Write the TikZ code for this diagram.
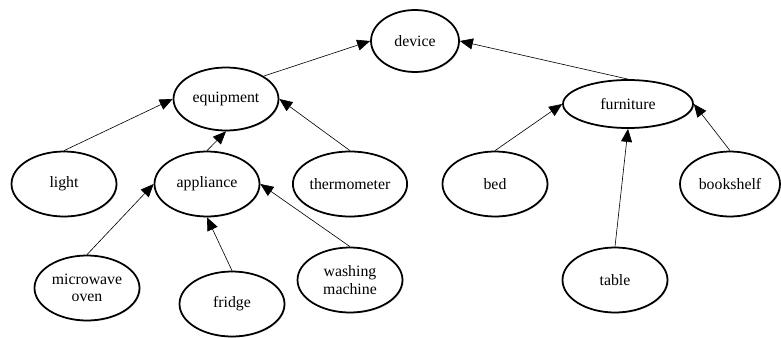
\documentclass[tikz,border=0pt]{standalone}
\usepackage{fontspec}
\setmainfont{Liberation Serif}
\usepackage{tikz}
\usetikzlibrary{arrows.meta,shapes.geometric,shadows}

\begin{document}
\begin{tikzpicture}[
  x=0.02cm, y=-0.02cm,
  every node/.style={font=\fontsize{9}{10}\selectfont},
  concept/.style={ellipse, draw, line width=1pt, fill=white, inner sep=0pt,
    minimum width=2.1cm, minimum height=1.3cm, align=center,
    drop shadow={shadow xshift=0.6pt, shadow yshift=-0.6pt, fill=gray!60}},
  arrow/.style={-{Triangle[length=2.6mm,width=2.2mm]}, line width=0.35pt}
]
\useasboundingbox (0,0) rectangle (781,338);

\node[concept, minimum width=1.76cm, minimum height=1.24cm] (device) at (415,41) {device};
\node[concept, minimum height=1.26cm] (equipment) at (226,99) {equipment};
\node[concept, minimum width=2.6cm, minimum height=0.96cm] (furniture) at (628,104) {furniture};

\node[concept] (light) at (64,184) {light};
\node[concept] (appliance) at (207,184) {appliance};
\node[concept] (thermometer) at (350,184) {thermometer};
\node[concept] (bed) at (495,184) {bed};
\node[concept, minimum width=2.0cm] (bookshelf) at (730,184) {bookshelf};

\node[concept] (microwave) at (87,288) {microwave\\oven};
\node[concept] (fridge) at (232,304) {fridge};
\node[concept] (washing) at (350,280) {washing\\machine};
\node[concept] (table) at (615,280) {table};

\draw[arrow] (equipment.north east) -- (device.west);
\draw[arrow] (furniture.north) -- (device.east);
\draw[arrow] (light.north) -- (equipment.west);
\draw[arrow] (appliance.north) -- (equipment.south);
\draw[arrow] (thermometer.north) -- (equipment.east);
\draw[arrow] (microwave.north) -- (appliance.west);
\draw[arrow] (fridge.north) -- (appliance.south);
\draw[arrow] (washing.north) -- (appliance.east);
\draw[arrow] (bed.north) -- (furniture.west);
\draw[arrow] (table.north) -- (furniture.south);
\draw[arrow] (bookshelf.north) -- (furniture.east);
\end{tikzpicture}
\end{document}
